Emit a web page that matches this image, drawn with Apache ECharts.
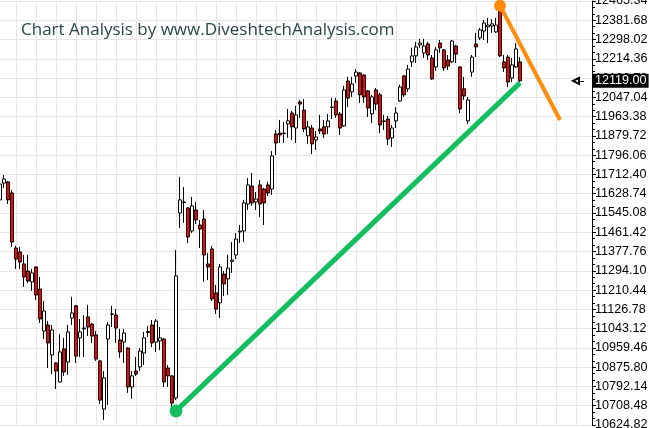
<!DOCTYPE html>
<html>
<head>
<meta charset="utf-8">
<script src="https://cdn.jsdelivr.net/npm/echarts@6/dist/echarts.min.js"></script>
<style>
  html, body { margin: 0; padding: 0; background: #fff; }
  #chart { width: 649px; height: 428px; }
</style>
</head>
<body>
<div id="chart"></div>
<script>
// ---- data ----
const titleText = 'Chart Analysis by www.DiveshtechAnalysis.com';
const slotCount = 149;                 // trading-day slots incl. empty space on the right
const categories = [];
for (let i = 0; i < slotCount; i++) categories.push('D' + (i + 1));

// [open, close, low, high]
const candles = [
  [11602, 11671, 11571, 11688], [11675, 11693, 11654, 11710], [11680, 11602, 11584, 11684],
  [11632, 11419, 11398, 11645], [11393, 11345, 11302, 11402], [11376, 11332, 11302, 11398],
  [11324, 11267, 11224, 11363], [11293, 11250, 11241, 11363], [11246, 11285, 11207, 11302],
  [11311, 11189, 11167, 11313], [11215, 11085, 11068, 11267], [11033, 11120, 10998, 11163],
  [11059, 10981, 10872, 11076], [10929, 11037, 10846, 11059], [10894, 10859, 10781, 10898],
  [10812, 10942, 10809, 11020], [10955, 10855, 10838, 11003], [10898, 11029, 10842, 11059],
  [11089, 11111, 11059, 11181], [11142, 10924, 10894, 11146], [11003, 11029, 10920, 11085],
  [11042, 11046, 10920, 11102], [11094, 11050, 11011, 11146], [11063, 11011, 10981, 11068],
  [11016, 10911, 10903, 11033], [10903, 10733, 10716, 10907], [10694, 10829, 10647, 10859],
  [10998, 11059, 10712, 11072], [11105, 11107, 11050, 11142], [11102, 11046, 10981, 11128],
  [10994, 10942, 10916, 11042], [10985, 11024, 10894, 11042], [10959, 10790, 10764, 10963],
  [10790, 10838, 10738, 10859], [10859, 10846, 10838, 10920], [10877, 10946, 10859, 10959],
  [10937, 11003, 10885, 11029], [11026, 11031, 11007, 11055], [11059, 10981, 10963, 11081],
  [10985, 11076, 10942, 11085], [10990, 11003, 10950, 11050], [10998, 10812, 10790, 11003],
  [10872, 10838, 10790, 10885], [10838, 10720, 10690, 10842], [10742, 11272, 10733, 11385],
  [11545, 11602, 11480, 11702], [11591, 11593, 11502, 11658], [11567, 11441, 11415, 11571],
  [11467, 11576, 11458, 11615], [11558, 11515, 11497, 11593], [11493, 11476, 11393, 11515],
  [11519, 11363, 11246, 11558], [11324, 11311, 11254, 11372], [11389, 11172, 11163, 11402],
  [11198, 11128, 11107, 11233], [11155, 11311, 11089, 11324], [11280, 11237, 11185, 11293],
  [11259, 11306, 11189, 11363], [11335, 11341, 11285, 11419], [11363, 11432, 11345, 11458],
  [11463, 11467, 11415, 11493], [11467, 11589, 11419, 11602], [11584, 11667, 11558, 11697],
  [11662, 11589, 11576, 11719], [11593, 11606, 11558, 11636], [11667, 11584, 11528, 11688],
  [11649, 11589, 11493, 11654], [11667, 11632, 11619, 11680], [11649, 11793, 11623, 11814],
  [11888, 11849, 11797, 11906], [11892, 11884, 11849, 11949], [11890, 11892, 11849, 11940],
  [11932, 11945, 11871, 11997], [11979, 11919, 11862, 11988], [11914, 11971, 11849, 12010],
  [12027, 12018, 11958, 12036], [11992, 11910, 11897, 12040], [11880, 11919, 11845, 11945],
  [11914, 11845, 11801, 11927], [11862, 11875, 11819, 11901], [11910, 11901, 11888, 11971],
  [11919, 11888, 11871, 11949], [11919, 11945, 11888, 11975], [12003, 12005, 11953, 12044],
  [12031, 11971, 11958, 12044], [11975, 11914, 11884, 11984], [11923, 12079, 11919, 12097],
  [12118, 12044, 12005, 12136], [12071, 12105, 12049, 12136], [12140, 12157, 12110, 12170],
  [12153, 12058, 12023, 12157], [12144, 12049, 12023, 12147], [12075, 12001, 11962, 12079],
  [11975, 12049, 11936, 12058], [12079, 12018, 11992, 12088], [12058, 11927, 11893, 12066],
  [11942, 11945, 11906, 11971], [11953, 11866, 11840, 11966], [11871, 11914, 11832, 11927],
  [11945, 11979, 11914, 12005], [12031, 12092, 12027, 12101], [12140, 12058, 12049, 12144],
  [12084, 12170, 12071, 12188], [12201, 12227, 12179, 12262], [12227, 12266, 12196, 12288],
  [12275, 12283, 12262, 12301], [12240, 12270, 12218, 12301], [12279, 12231, 12209, 12288],
  [12218, 12127, 12123, 12231], [12179, 12253, 12162, 12266], [12283, 12262, 12240, 12296],
  [12253, 12175, 12162, 12257], [12209, 12183, 12166, 12231], [12201, 12292, 12196, 12296],
  [12270, 12235, 12196, 12275], [12179, 11997, 11979, 12183], [12084, 12053, 12036, 12136],
  [11945, 12036, 11932, 12049], [12157, 12222, 12136, 12231], [12279, 12266, 12222, 12327],
  [12305, 12340, 12296, 12348], [12335, 12370, 12296, 12383], [12353, 12361, 12283, 12392],
  [12357, 12366, 12327, 12387], [12331, 12361, 12327, 12392], [12427, 12227, 12222, 12455],
  [12201, 12175, 12157, 12231], [12222, 12114, 12092, 12231], [12131, 12188, 12114, 12218],
  [12179, 12257, 12175, 12283], [12201, 12119, 12114, 12222]
];

// trend lines: [slot index, value]; first point carries the dot
const supportLine = [[44, 10686], [130, 12110]];
const resistLine  = [[125, 12445], [140, 11949]];

// price axis
const yMin = 10624.82;
const yMax = 12465.34;
const yStep = 83.66;
const lastPrice = 12119.00;
const lastPriceArrow = [144, 146];

// ---- chart ----
const green = '#12be60';
const orange = '#ff8c0a';
const axisFont = 'Liberation Sans, Arial, sans-serif';
const chart = echarts.init(document.getElementById('chart'), null, { renderer: 'canvas' });
chart.setOption({
  animation: false,
  backgroundColor: '#ffffff',
  title: {
    text: titleText,
    left: 16, top: 17,
    textStyle: { fontFamily: 'Open Sans', fontSize: 17, fontWeight: 'normal', color: '#2b4646' }
  },
  grid: { left: 0, right: 57, top: 1, bottom: 3, containLabel: false, outerBoundsMode: 'none' },
  xAxis: {
    type: 'category',
    data: categories,
    boundaryGap: false,
    axisLine: { show: false },
    axisTick: { show: false },
    axisLabel: { show: false },
    splitLine: {
      show: true,
      interval: function (idx) { return idx % 5 === 4; },
      lineStyle: { color: '#e6e6e6', width: 1 }
    }
  },
  yAxis: {
    type: 'value',
    position: 'right',
    min: yMin, max: yMax, interval: yStep,
    axisLine: { show: true, lineStyle: { color: '#000', width: 1 } },
    axisTick: { show: true, inside: false, length: 4, lineStyle: { color: '#000' } },
    minorTick: { show: true, splitNumber: 3, length: 3, lineStyle: { color: '#000' } },
    axisLabel: {
      margin: 3,
      fontFamily: axisFont,
      fontSize: 12.6,
      color: '#000',
      formatter: function (v) { return v.toFixed(2); }
    },
    splitLine: { show: true, lineStyle: { color: '#e6e6e6', width: 1 } }
  },
  series: [
    {
      type: 'candlestick',
      data: candles,
      barWidth: 3,
      clip: false,
      itemStyle: {
        color: '#ffffff', color0: '#ff0000',
        borderColor: '#000000', borderColor0: '#000000',
        borderWidth: 1
      },
      markPoint: {
        symbol: 'rect', symbolSize: [0, 0],
        data: [{
          coord: [slotCount - 1, lastPrice],
          label: {
            show: true, position: 'right', distance: 1,
            formatter: lastPrice.toFixed(2),
            backgroundColor: '#000', color: '#fff',
            fontFamily: axisFont, fontSize: 12.6,
            padding: [1, 2, 0, 2]
          }
        }]
      },
      markLine: {
        silent: true,
        symbol: ['emptyTriangle', 'none'],
        symbolSize: 6,
        label: { show: false },
        lineStyle: { color: '#000', width: 1, type: 'solid' },
        data: [[
          { coord: [lastPriceArrow[0], lastPrice] },
          { coord: [lastPriceArrow[1], lastPrice] }
        ]]
      }
    },
    {
      type: 'line',
      data: supportLine,
      showSymbol: false,
      lineStyle: { color: green, width: 5 },
      itemStyle: { color: green },
      z: 5
    },
    {
      type: 'line',
      data: resistLine,
      showSymbol: false,
      lineStyle: { color: orange, width: 4 },
      itemStyle: { color: orange },
      z: 5
    },
    {
      type: 'scatter',
      data: [supportLine[0]],
      symbol: 'circle',
      symbolSize: 13,
      itemStyle: { color: green, opacity: 1 },
      z: 6
    },
    {
      type: 'scatter',
      data: [resistLine[0]],
      symbol: 'circle',
      symbolSize: 12,
      itemStyle: { color: orange, opacity: 1 },
      z: 6
    }
  ]
});
</script>
</body>
</html>
